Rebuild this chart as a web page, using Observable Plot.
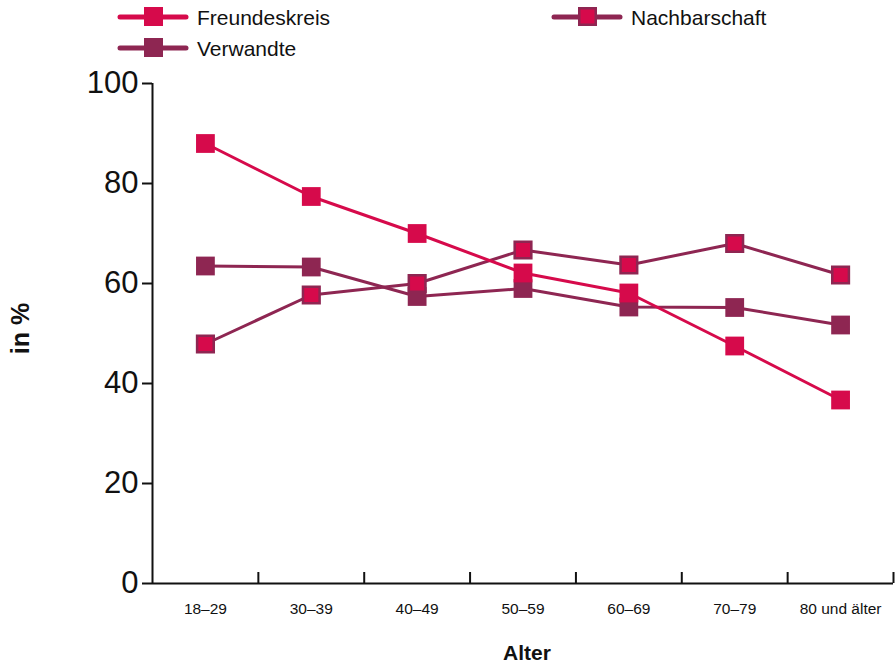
<!DOCTYPE html>
<html>
<head>
<meta charset="utf-8">
<script src="https://cdn.jsdelivr.net/npm/d3@7"></script>
<script src="https://cdn.jsdelivr.net/npm/@observablehq/plot@0.6"></script>
<style>
  html, body { margin: 0; padding: 0; background: #fff; }
  #wrap { position: relative; width: 895px; height: 663px; font-family: "Liberation Sans", Arial, Helvetica, sans-serif; color: #111; }
  .leg { position: absolute; display: flex; align-items: center; font-size: 21px; line-height: 1; }
  .leg svg { display: block; margin-right: 8px; }
</style>
</head>
<body>
<div id="wrap"></div>
<script>
const ages = ["18–29", "30–39", "40–49", "50–59", "60–69", "70–79", "80 und älter"];
const freundeskreis = [88.0, 77.4, 70.0, 62.1, 58.1, 47.5, 36.7];
const verwandte = [63.5, 63.3, 57.4, 59.0, 55.3, 55.2, 51.7];
const nachbarschaft = [47.9, 57.7, 60.0, 66.7, 63.7, 68.0, 61.7];
const yTicks = [0, 20, 40, 60, 80, 100];

const crimson = "#d60a4b";
const purple = "#8e2652";

const seriesDefs = [
  {name: "Verwandte", values: verwandte, line: purple, fill: purple, stroke: null},
  {name: "Nachbarschaft", values: nachbarschaft, line: purple, fill: crimson, stroke: purple},
  {name: "Freundeskreis", values: freundeskreis, line: crimson, fill: crimson, stroke: null}
];

const idx = d3.range(ages.length);
const boundaries = idx.map(i => i + 0.5);

const marks = [];
for (const s of seriesDefs) {
  const rows = s.values.map((v, i) => ({i, v}));
  marks.push(Plot.line(rows, {x: "i", y: "v", stroke: s.line, strokeWidth: 3}));
}
for (const s of seriesDefs) {
  const rows = s.values.map((v, i) => ({i, v}));
  marks.push(Plot.dot(rows, {
    x: "i", y: "v", symbol: "square",
    r: s.stroke ? 9.4 : 10.6,
    fill: s.fill,
    stroke: s.stroke || "none",
    strokeWidth: s.stroke ? 2.5 : 0
  }));
}

const chart = Plot.plot({
  width: 895,
  height: 663,
  marginTop: 83,
  marginBottom: 80,
  marginLeft: 152,
  marginRight: 2,
  style: {fontFamily: '"Liberation Sans", Arial, Helvetica, sans-serif', background: "#fff", color: "#111", overflow: "visible"},
  x: {domain: [-0.5, ages.length - 0.5]},
  y: {domain: [0, 100]},
  marks: [
    Plot.axisY({ticks: yTicks, tickSize: 10, tickPadding: 4, fontSize: 31, strokeWidth: 2, label: null}),
    Plot.axisX({ticks: idx, tickFormat: i => ages[i], tickSize: 0, tickPadding: 19, fontSize: 15.5, label: null}),
    Plot.axisX({ticks: boundaries, tickFormat: () => "", tickSize: -11, strokeWidth: 2, label: null}),
    Plot.ruleX([-0.5], {strokeWidth: 2, stroke: "#111"}),
    Plot.ruleY([0], {strokeWidth: 2, stroke: "#111"}),
    Plot.text(["in %"], {frameAnchor: "left", textAnchor: "middle", lineAnchor: "middle", rotate: -90, dx: -132, dy: -5, fontSize: 25, fontWeight: "bold", fill: "#111"}),
    Plot.text(["Alter"], {frameAnchor: "bottom", lineAnchor: "middle", dx: 4, dy: 70, fontSize: 21, fontWeight: "bold", fill: "#111"}),
    ...marks
  ]
});

const wrap = document.getElementById("wrap");
wrap.appendChild(chart);

// legend (HTML overlay)
const legendItems = [
  {name: "Freundeskreis", line: crimson, fill: crimson, stroke: null, left: 117, top: 17},
  {name: "Nachbarschaft", line: purple, fill: crimson, stroke: purple, left: 551, top: 17},
  {name: "Verwandte", line: purple, fill: purple, stroke: null, left: 117, top: 48}
];
for (const it of legendItems) {
  const div = d3.select(wrap).append("div").attr("class", "leg")
    .style("left", it.left + "px").style("top", (it.top - 11) + "px");
  const svg = div.append("svg").attr("width", 72).attr("height", 22);
  svg.append("line").attr("x1", 3).attr("x2", 69).attr("y1", 11).attr("y2", 11)
    .attr("stroke", it.line).attr("stroke-width", 5).attr("stroke-linecap", "round");
  if (it.stroke) {
    svg.append("rect").attr("x", 28.25).attr("y", 2.25).attr("width", 16.5).attr("height", 16.5)
      .attr("fill", it.fill).attr("stroke", it.stroke).attr("stroke-width", 2.5);
  } else {
    svg.append("rect").attr("x", 27).attr("y", 1).attr("width", 19).attr("height", 19).attr("fill", it.fill);
  }
  div.append("span").text(it.name);
}
</script>
</body>
</html>
